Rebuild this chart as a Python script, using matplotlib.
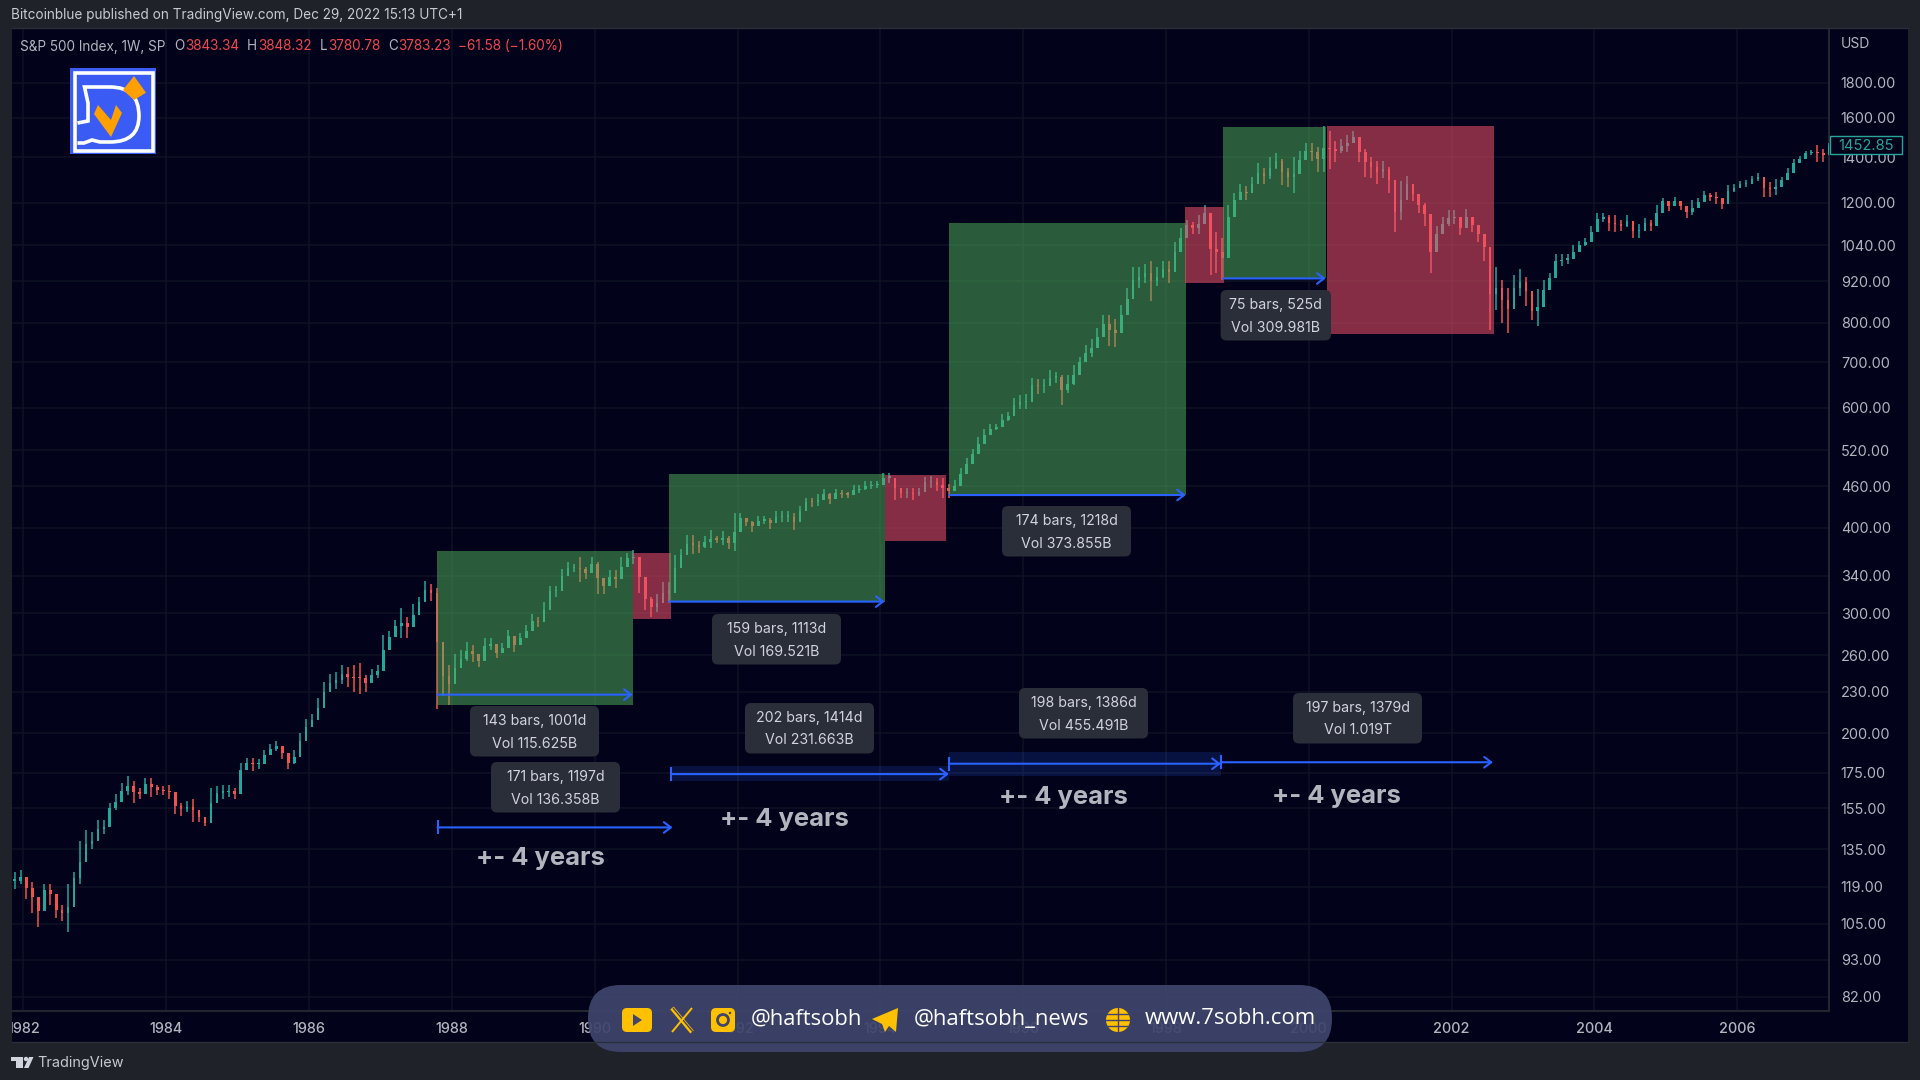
import numpy as np
import matplotlib
matplotlib.use("Agg")
import matplotlib.pyplot as plt
from matplotlib.patches import Rectangle, FancyBboxPatch, Polygon, Circle, PathPatch
from matplotlib.path import Path
from matplotlib.ticker import NullFormatter, FixedLocator

plt.rcParams['font.family'] = ['Inter', 'DejaVu Sans']

# ===============================
# data: monthly ranges, Nov 1981 to Apr 2007
# ===============================
first_month = 1981 + 10 / 12

bar_low = [
    118, 120,
    114, 109, 104, 115, 112, 107, 106, 102, 120, 120, 131, 135,
    140, 142, 153, 154, 160, 162, 158, 160, 165, 161, 162, 162,
    160, 152, 151, 153, 148, 148, 146, 150, 160, 160, 161, 160,
    172, 178, 176, 177, 183, 186, 188, 183, 177, 180, 189, 198,
    205, 210, 222, 230, 232, 236, 234, 230, 228, 230, 238, 241,
    251, 272, 281, 276, 276, 287, 305, 315, 312, 217, 227, 220,
    238, 249, 255, 254, 250, 261, 265, 258, 263, 272, 263, 272,
    276, 286, 286, 296, 317, 317, 333, 342, 345, 333, 337, 345,
    320, 320, 331, 326, 337, 356, 354, 321, 303, 296, 301, 310,
    310, 334, 358, 367, 366, 367, 374, 374, 380, 378, 372, 370,
    406, 403, 394, 403, 405, 399, 406, 408, 408, 397, 415, 430,
    429, 431, 440, 433, 443, 442, 443, 447, 450, 454, 456, 458,
    466, 466, 440, 443, 443, 440, 446, 459, 458, 453, 442, 443,
    453, 470, 488, 503, 518, 538, 550, 556, 563, 574, 593, 598,
    598, 633, 628, 630, 648, 653, 606, 631, 648, 688, 703, 713,
    740, 775, 740, 737, 790, 835, 885, 900, 915, 860, 905, 930,
    915, 980, 1030, 1095, 1080, 1080, 1130, 940, 945, 923, 1100, 1180,
    1210, 1210, 1250, 1280, 1280, 1300, 1345, 1275, 1265, 1240, 1345, 1390,
    1380, 1330, 1330, 1345, 1375, 1420, 1425, 1470, 1375, 1310, 1305, 1280,
    1305, 1240, 1085, 1130, 1240, 1205, 1160, 1110, 945, 1050, 1085, 1110,
    1115, 1075, 1110, 1085, 1050, 985, 780, 835, 800, 773, 860, 875,
    845, 808, 790, 860, 915, 960, 970, 975, 995, 1025, 1035, 1060,
    1115, 1125, 1090, 1085, 1090, 1105, 1065, 1065, 1100, 1090, 1130, 1190,
    1165, 1185, 1170, 1140, 1150, 1185, 1210, 1205, 1195, 1175, 1220, 1245,
    1265, 1265, 1285, 1290, 1225, 1225, 1230, 1285, 1305, 1350, 1375, 1405,
    1410, 1375, 1375, 1440,
]
bar_high = [
    125, 126,
    123, 121, 115, 120, 120, 113, 112, 120, 125, 139, 144, 143,
    149, 149, 158, 163, 169, 173, 170, 166, 172, 172, 168, 167,
    168, 161, 158, 159, 160, 153, 149, 166, 167, 168, 168, 166,
    181, 184, 184, 183, 189, 193, 195, 191, 185, 189, 200, 210,
    213, 225, 238, 244, 246, 252, 250, 252, 253, 243, 248, 252,
    279, 282, 293, 305, 296, 309, 317, 334, 331, 327, 258, 252,
    261, 265, 272, 269, 261, 276, 276, 267, 271, 283, 276, 280,
    288, 299, 296, 311, 329, 329, 348, 356, 354, 363, 350, 363,
    356, 338, 347, 347, 363, 367, 371, 356, 327, 317, 320, 333,
    333, 365, 373, 391, 390, 383, 389, 397, 389, 396, 389, 420,
    420, 414, 410, 417, 417, 413, 423, 423, 423, 420, 431, 443,
    443, 449, 456, 450, 456, 454, 452, 462, 462, 468, 468, 468,
    482, 482, 474, 456, 458, 457, 458, 475, 476, 473, 474, 464,
    470, 490, 506, 523, 543, 558, 568, 568, 588, 592, 620, 626,
    628, 663, 662, 662, 681, 678, 670, 670, 693, 713, 743, 758,
    785, 820, 820, 810, 850, 900, 965, 965, 975, 985, 965, 985,
    985, 1050, 1100, 1130, 1125, 1150, 1190, 1110, 1085, 1065, 1190, 1240,
    1280, 1270, 1310, 1370, 1350, 1400, 1420, 1390, 1350, 1400, 1430, 1470,
    1470, 1450, 1555, 1530, 1480, 1490, 1510, 1530, 1475, 1440, 1400, 1380,
    1380, 1355, 1240, 1290, 1315, 1265, 1225, 1200, 1090, 1110, 1145, 1170,
    1170, 1130, 1175, 1140, 1110, 1080, 980, 965, 925, 900, 940, 960,
    935, 855, 895, 925, 945, 1010, 1010, 1010, 1040, 1055, 1065, 1110,
    1160, 1160, 1150, 1150, 1130, 1150, 1115, 1115, 1140, 1130, 1190, 1220,
    1205, 1225, 1205, 1185, 1210, 1220, 1250, 1240, 1245, 1215, 1275, 1280,
    1290, 1295, 1315, 1325, 1300, 1285, 1300, 1310, 1350, 1390, 1405, 1430,
    1435, 1460, 1440, 1470,
]
last_close = 1452.85

# measured rectangles: colour, start, end, top price, bottom price
box_kind = ['up', 'down', 'up', 'down', 'up', 'down', 'up', 'down']
box_start = [1987.795, 1990.532, 1991.045, 1994.06, 1994.966, 1998.27, 1998.80, 2000.25]
box_end = [1990.532, 1991.069, 1994.06, 1994.924, 1998.28, 1998.807, 2000.238, 2002.595]
box_top = [370.3, 367.7, 480.3, 478.1, 1118.7, 1182, 1548, 1556]
box_bottom = [220.2, 294.4, 311.8, 383, 446.9, 915, 929, 771]

# date ranges with the arrow, the last four have a tick at the start
range_start = [1987.795, 1991.045, 1994.966, 1998.80, 1987.80, 1991.07, 1994.96, 1998.77]
range_end = [1990.532, 1994.06, 1998.28, 2000.238, 1991.09, 1994.96, 1998.77, 2002.58]
range_price = [227.7, 311.8, 446.9, 929, 145.4, 174.1, 180.3, 181.2]

label_line1 = ['143 bars, 1001d', '171 bars, 1197d', '159 bars, 1113d', '202 bars, 1414d',
               '174 bars, 1218d', '198 bars, 1386d', '197 bars, 1379d', '75 bars, 525d']
label_line2 = ['Vol 115.625B', 'Vol 136.358B', 'Vol 169.521B', 'Vol 231.663B',
               'Vol 373.855B', 'Vol 455.491B', 'Vol 1.019T', 'Vol 309.981B']

price_ticks = [1800, 1600, 1400, 1200, 1040, 920, 800, 700, 600, 520, 460, 400,
               340, 300, 260, 230, 200, 175, 155, 135, 119, 105, 93, 82]
year_ticks = list(range(1982, 2008, 2))

# ===============================
# colours
# ===============================
frame_col = '#1f2229'
chart_col = '#02021a'
grid_col = '#0f1124'
text_col = '#b2b5be'
teal = '#26a69a'
red = '#ef5350'
blue = '#2962ff'
gold = '#ffc000'

W, H = 1920, 1080
fig = plt.figure(figsize=(W / 100, H / 100), dpi=100, facecolor=frame_col)

# backdrop of the chart, behind the price scale and the time scale too
back = fig.add_axes([12 / W, 1 - 1042 / H, (1908 - 12) / W, (1042 - 28) / H], zorder=0)
back.set_facecolor(chart_col)
back.set_xticks([])
back.set_yticks([])
for s in back.spines.values():
    s.set_visible(False)

# ===============================
# price pane
# ===============================
ax = fig.add_axes([12 / W, 1 - 1011 / H, (1829 - 12) / W, (1011 - 28) / H], zorder=1)
ax.set_facecolor('none')
ax.set_yscale('log')
ax.set_xlim(1981.839, 2007.287)
ax.set_ylim(78.2, 2165)
ax.yaxis.set_major_locator(FixedLocator(price_ticks))
ax.yaxis.set_minor_formatter(NullFormatter())
ax.yaxis.set_minor_locator(FixedLocator([]))
ax.set_yticklabels([f'{p:.2f}' for p in price_ticks])
ax.set_xticks(year_ticks)
ax.set_xticklabels([str(y) for y in year_ticks], fontweight='medium')
ax.yaxis.tick_right()
ax.tick_params(axis='y', length=0, pad=8.5, labelsize=10.4, labelcolor=text_col)
ax.tick_params(axis='x', length=0, pad=8, labelsize=10.4, labelcolor=text_col)
ax.grid(True, color=grid_col, lw=1.1)
ax.set_axisbelow(True)
for name, s in ax.spines.items():
    s.set_visible(name in ('right', 'bottom'))
    s.set_color('#23262f')
    s.set_linewidth(1.5)

# candles
low = np.array(bar_low, dtype=float)
high = np.array(bar_high, dtype=float)
mid = (low + high) / 2
opens = np.r_[mid[0], mid[:-1]]
bar_x = first_month + (np.arange(len(low)) + 0.5) / 12
colors = [teal if m >= o else red for m, o in zip(mid, opens)]
ax.vlines(bar_x, low, high, colors=colors, lw=1.1, zorder=3)
ax.bar(bar_x, np.maximum(np.abs(mid - opens), mid * 0.004), bottom=np.minimum(mid, opens),
       width=2.6 / 71.4, color=colors, linewidth=0, zorder=3)

# boxes go over the candles, the price shows through
for kind, x0, x1, top, bot in zip(box_kind, box_start, box_end, box_top, box_bottom):
    c = '#52b55a' if kind == 'up' else '#f0526a'
    a = 0.5 if kind == 'up' else 0.55
    ax.add_patch(Rectangle((x0, bot), x1 - x0, top - bot, facecolor=c, alpha=a, lw=0, zorder=4))

# faint bands behind the two long ranges
ax.add_patch(Rectangle((1991.07, 169.8), 3.89, 9.2, facecolor=blue, alpha=0.17, lw=0, zorder=2))
ax.add_patch(Rectangle((1994.96, 173.1), 3.81, 14.8, facecolor=blue, alpha=0.17, lw=0, zorder=2))

for x0, x1, p in zip(range_start, range_end, range_price):
    ax.annotate('', xy=(x1, p), xytext=(x0, p), zorder=5,
                arrowprops=dict(arrowstyle='->,head_length=0.5,head_width=0.38',
                                color=blue, lw=1.5, shrinkA=0, shrinkB=0))
ax.plot(range_start[4:], range_price[4:], '|', ms=10, mew=1.5, color=blue, zorder=5)

# ===============================
# overlay in picture pixels: frame, texts, labels, logo, banner
# ===============================
ov = fig.add_axes([0, 0, 1, 1], zorder=5)
ov.set_xlim(0, W)
ov.set_ylim(H, 0)
ov.axis('off')
ov.patch.set_alpha(0)

ov.add_patch(Rectangle((0, 28), 12, 1014, facecolor=frame_col, lw=0))
ov.plot([12, 1908], [28, 28], color='#2a2e39', lw=1)
ov.plot([12, 1908], [1042, 1042], color='#2a2e39', lw=1)

ov.text(11, 15, 'Bitcoinblue published on TradingView.com, Dec 29, 2022 15:13 UTC+1',
        color='#c8cad2', fontsize=9.77, va='center')
ov.text(1855, 43.5, 'USD', color=text_col, fontsize=10, va='center', ha='center')

legend_parts = [(20, 'S&P 500 Index, 1W, SP', text_col), (174, 'O', text_col), (185, '3843.34', '#f0484e'),
                (247, 'H', text_col), (258, '3848.32', '#f0484e'), (320, 'L', text_col),
                (328, '3780.78', '#f0484e'), (388, 'C', text_col), (398, '3783.23', '#f0484e'),
                (458, '\u221261.58 (\u22121.60%)', '#f0484e')]
for x, s, c in legend_parts:
    ov.text(x, 46.5, s, color=c, fontsize=9.75, va='center')

# current price tag
ov.add_patch(Rectangle((1829.5, 136), 72.5, 18, facecolor=chart_col, edgecolor=teal, lw=1))
ov.text(1866, 145.5, f'{last_close:.2f}', color=teal, fontsize=10.6, va='center', ha='center')

# measure labels
label_box = [(470, 706), (491, 762), (712, 614), (745, 703), (1002, 506), (1019, 688), (1293, 693), (1220.6, 290)]
for i, (x, y) in enumerate(label_box):
    w = 110.4 if i == 7 else 129
    ov.add_patch(FancyBboxPatch((x, y), w, 50.5, boxstyle='round,pad=0,rounding_size=6',
                                facecolor='#2a2e39', lw=0))
    ov.text(x + w / 2, y + 15, label_line1[i], color='#d1d4dc', fontsize=10.2, ha='center', va='center')
    ov.text(x + w / 2, y + 37.5, label_line2[i], color='#d1d4dc', fontsize=10.2, ha='center', va='center')

for x, y in [(540, 858.5), (784, 819.5), (1063, 797.5), (1336, 796)]:
    ov.text(x, y, '+- 4 years', color='#b2b5be', fontsize=18.4, fontweight='bold', ha='center', va='center')

# logo
ov.add_patch(Rectangle((70, 68), 86, 86, facecolor='#3a5cf5', lw=0))
ov.add_patch(Rectangle((75, 72.5), 78, 78, facecolor='none', edgecolor='white', lw=2.6))
d_path = Path([(77.5, 123), (88, 121), (88, 103), (84.5, 87), (110, 87), (139, 87), (139, 116), (139, 142),
               (110, 142), (100, 142), (92, 140), (84, 143), (77.5, 143)],
              [Path.MOVETO, Path.LINETO, Path.LINETO, Path.LINETO, Path.LINETO, Path.CURVE3, Path.CURVE3,
               Path.CURVE3, Path.CURVE3, Path.LINETO, Path.LINETO, Path.LINETO, Path.LINETO])
ov.add_patch(PathPatch(d_path, facecolor='none', edgecolor='white', lw=2.6))
ov.add_patch(Polygon([(134, 76), (146, 92.7), (134, 100), (123, 90)], facecolor='#ffa000', lw=0))
ov.add_patch(Polygon([(98, 105), (111, 120), (116, 105), (122, 113), (111, 137), (94, 114)], facecolor='#ffa000', lw=0))

# banner with social links
ov.add_patch(FancyBboxPatch((588, 985), 744, 67, boxstyle='round,pad=0,rounding_size=33',
                            facecolor='#3f456c', alpha=0.93, lw=0))
ov.add_patch(FancyBboxPatch((622, 1008), 30, 24, boxstyle='round,pad=0,rounding_size=5', facecolor=gold, lw=0))
ov.add_patch(Polygon([(633, 1014), (642, 1020), (633, 1026)], facecolor='#3f456c', lw=0))
ov.plot([672, 692], [1008, 1032], color=gold, lw=3.2, solid_capstyle='butt')
ov.plot([673, 693], [1008, 1032], color='#3f456c', lw=1.0, solid_capstyle='butt')
ov.plot([692, 672], [1008, 1032], color=gold, lw=1.4, solid_capstyle='butt')
ov.add_patch(FancyBboxPatch((711, 1008), 24, 24, boxstyle='round,pad=0,rounding_size=5', facecolor=gold, lw=0))
ov.add_patch(Circle((723, 1020), 5.5, facecolor='none', edgecolor='#3f456c', lw=2))
ov.add_patch(Circle((730, 1013), 1.2, facecolor='#3f456c', lw=0))
ov.add_patch(Polygon([(898, 1008), (872, 1019), (882, 1024), (885, 1032), (889, 1026), (896, 1032)], facecolor=gold, lw=0))
ov.add_patch(Circle((1118, 1020), 12, facecolor=gold, lw=0))
for yy in [1014, 1020, 1026]:
    ov.plot([1106, 1130], [yy, yy], color='#3f456c', lw=1)
ov.plot([1118, 1118], [1008, 1032], color='#3f456c', lw=1)
ov.text(751, 1019, '@haftsobh', color='white', fontsize=15.8, family=['Open Sans', 'DejaVu Sans'], va='center')
ov.text(913.5, 1019, '@haftsobh_news', color='white', fontsize=15.9, family=['Open Sans', 'DejaVu Sans'], va='center')
ov.text(1145, 1019, 'www.7sobh.com', color='white', fontsize=15.9, family=['Open Sans', 'DejaVu Sans'], va='center')

# footer
ov.add_patch(Polygon([(11.3, 1057), (23, 1057), (23, 1068), (16, 1068), (16, 1061), (11.3, 1061)], facecolor='#d1d4dc', lw=0))
ov.add_patch(Circle((26, 1059), 2.2, facecolor='#d1d4dc', lw=0))
ov.add_patch(Polygon([(29, 1057), (33.5, 1057), (28.5, 1068), (24, 1068)], facecolor='#d1d4dc', lw=0))
ov.text(37.5, 1063.5, 'TradingView', color='#c8cad2', fontsize=10.4, va='center')

fig.savefig('out.png', dpi=100, facecolor=frame_col)
